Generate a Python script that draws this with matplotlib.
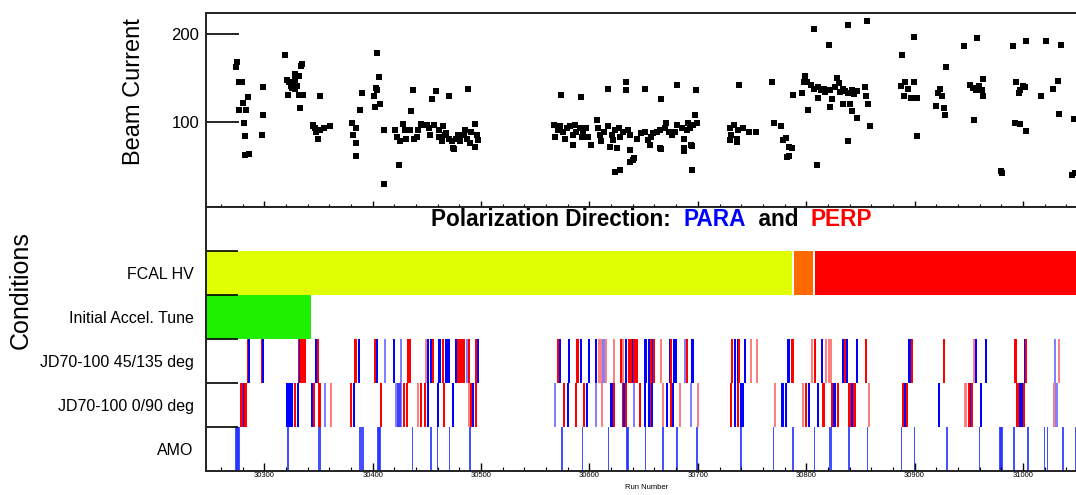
import matplotlib
matplotlib.use("Agg")
import matplotlib.pyplot as plt
from matplotlib.ticker import MultipleLocator, FixedLocator, NullFormatter

plt.rcParams['font.family'] = ['Liberation Sans', 'DejaVu Sans']

# beam current per run
runs = [30274, 30275, 30277, 30279, 30280, 30285, 30277, 30283, 30281, 30282, 30282, 30286,
        30299, 30299, 30298, 30319, 30321, 30323, 30325, 30328, 30328, 30330, 30332, 30334,
        30335, 30322, 30332, 30336, 30333, 30326, 30328, 30345, 30347, 30348, 30350, 30351,
        30355, 30361, 30351, 30345, 30381, 30385, 30382, 30385, 30385, 30388, 30390, 30401,
        30403, 30404, 30406, 30407, 30402, 30404, 30410, 30424, 30437, 30435, 30455, 30458,
        30470, 30475, 30488,
        30410, 30421, 30422, 30425, 30428, 30430, 30431, 30434, 30438, 30441, 30442, 30445,
        30447, 30450, 30452, 30453, 30457, 30461, 30461, 30464, 30465, 30467, 30468, 30470,
        30473, 30474, 30477, 30479, 30481, 30484, 30485, 30487, 30490, 30491, 30494, 30496,
        30497, 30494,
        30567, 30568, 30571, 30573, 30576, 30577, 30579, 30582, 30585, 30587, 30588, 30591,
        30593, 30594, 30585, 30601, 30597, 30599, 30607, 30608, 30610, 30611, 30613, 30617,
        30621, 30622, 30624, 30627, 30628, 30631, 30619, 30625, 30636, 30637, 30637, 30641,
        30644, 30648, 30651, 30654, 30656, 30657, 30659, 30662, 30665, 30665, 30670, 30671,
        30673, 30676, 30679, 30681, 30685, 30687, 30690, 30691, 30693, 30696, 30699, 30697,
        30687, 30694, 30730, 30731, 30733, 30736, 30737, 30742, 30747, 30754, 30730, 30736,
        30574, 30592, 30617, 30634, 30634, 30624, 30628, 30637, 30640, 30651, 30666, 30681,
        30698, 30695, 30687, 30666, 30695, 30738, 30768, 30770, 30777, 30779, 30784, 30782,
        30787, 30784, 30781, 30788, 30796, 30799, 30804, 30807, 30811, 30816, 30822, 30827,
        30828, 30830, 30834, 30839, 30842, 30847, 30854, 30802, 30811, 30824, 30822, 30834,
        30840, 30842, 30847, 30855, 30857, 30859, 30839, 30810, 30807, 30821, 30839, 30856,
        30814, 30817, 30819, 30831, 30836, 30844, 30798, 30801,
        30888, 30899, 30887, 30891, 30899, 30894, 30890, 30897, 30902, 30902, 30929, 30923,
        30925, 30920, 30927, 30928, 30922, 30946, 30958, 30951, 30954, 30959, 30962, 30963,
        30963, 30957, 30955, 30980, 30981, 30991, 31003, 31021, 31035, 30994, 31000, 30996,
        30997, 31002, 30993, 30997, 31003, 31017, 31028, 31032, 31033, 31047, 31045, 31048]
current = [163, 168, 145, 145, 122, 128, 114, 114, 99, 84, 63, 64,
           140, 108, 85, 176, 148, 146, 141, 154, 148, 141, 152, 164,
           166, 131, 131, 131, 116, 139, 138, 97, 93, 89, 81, 91,
           93, 95, 129, 95, 99, 93, 85, 76, 61, 114, 133, 129,
           139, 136, 151, 121, 117, 179, 30, 51, 136, 112, 126, 135,
           130, 69, 137,
           91, 91, 83, 78, 98, 91, 81, 91, 81, 83, 91, 98,
           97, 97, 93, 85, 97, 91, 83, 78, 95, 85, 87, 81,
           78, 70, 81, 85, 78, 85, 91, 81, 76, 89, 98, 85,
           80, 72,
           97, 83, 91, 95, 89, 81, 93, 95, 85, 97, 89, 93,
           83, 87, 74, 74, 93, 83, 102, 93, 85, 78, 89, 95,
           85, 80, 91, 93, 83, 89, 72, 70, 91, 85, 68, 59,
           81, 87, 89, 80, 74, 83, 87, 89, 70, 91, 93, 99,
           89, 85, 89, 97, 93, 81, 91, 99, 93, 97, 99, 108,
           70, 74, 93, 85, 97, 81, 91, 93, 89, 89, 80, 77,
           131, 128, 137, 145, 136, 43, 46, 55, 57, 137, 126, 142,
           136, 73, 67, 69, 46, 142, 145, 99, 96, 80, 72, 60,
           70, 61, 82, 131, 133, 152, 142, 138, 140, 137, 136, 140,
           150, 144, 137, 133, 136, 135, 140, 114, 127, 126, 117, 121,
           121, 113, 104, 129, 121, 96, 78, 51, 206, 188, 210, 215,
           136, 134, 136, 134, 135, 132, 145, 145,
           176, 197, 141, 146, 146, 138, 129, 127, 127, 84, 163, 137,
           129, 118, 116, 108, 133, 186, 195, 142, 139, 141, 136, 129,
           149, 136, 102, 44, 42, 186, 192, 192, 188, 146, 141, 133,
           136, 140, 99, 98, 90, 130, 138, 147, 109, 103, 40, 42]

# condition rows
row_labels = ["AMO", "JD70-100 0/90 deg", "JD70-100 45/135 deg",
              "Initial Accel. Tune", "FCAL HV"]
fcal_start = [30246.2, 30788.5, 30807.8]
fcal_end = [30786.6, 30806.0, 31060.0]
fcal_cols = ['#e0ff00', '#ff6a00', '#ff0000']
tune_start, tune_end = 30246.2, 30343.1

jd45_runs = [30284, 30285, 30297, 30298, 30331, 30332, 30333, 30334, 30335, 30336, 30337, 30347,
             30349, 30383, 30384, 30386, 30401, 30403, 30410, 30419, 30425, 30432, 30433, 30448,
             30450, 30453, 30455, 30460, 30461, 30464, 30467, 30469, 30476, 30478, 30480, 30481,
             30482, 30483, 30486, 30488, 30494, 30496,
             30570, 30572, 30580, 30588, 30591, 30599, 30605, 30608, 30610, 30612, 30614, 30622,
             30628, 30630, 30633, 30636, 30637, 30638, 30639, 30640, 30641, 30642, 30643,
             30650, 30651, 30654, 30656, 30658, 30659, 30665, 30673, 30674, 30677, 30679, 30687,
             30689, 30694, 30695, 30731, 30733, 30736, 30737, 30743, 30748, 30754,
             30782, 30783, 30786, 30787, 30804, 30807, 30814, 30817, 30820, 30822, 30833, 30835,
             30837, 30846, 30854, 30894, 30895, 30897, 30926, 30954, 30956, 30965, 30992, 30993,
             31001, 31002, 31029, 31032]
jd45_cols = "RBRBRBRRRRRBRRRBRBbBbRRrBBRBBRBBBRRRRRbRRB" \
            "RBBRBBBrrbrrRrBRRRBRRRR" \
            "BBBRBRrBRBBbRBBRBBRBrr" \
            "BBRRrRBrrrBRBBRBBRRrBBRRBRbr"

jd090_runs = [30278, 30279, 30280, 30281, 30282, 30320, 30321, 30322, 30323, 30325, 30327, 30330,
              30343, 30345, 30350, 30355, 30361, 30379, 30382, 30407, 30421, 30422, 30423, 30424,
              30425, 30428, 30431, 30441, 30444, 30447, 30450, 30459, 30465, 30473, 30488, 30490,
              30492, 30494,
              30567, 30576, 30579, 30587, 30594, 30597, 30605, 30611, 30619, 30620, 30622, 30630,
              30631, 30633, 30640,
              30646, 30650, 30654, 30656, 30657, 30667, 30671, 30674, 30676, 30683, 30693, 30699,
              30730, 30733, 30736, 30739, 30741, 30770, 30777, 30778, 30780, 30796, 30799, 30802,
              30810, 30815, 30823, 30825, 30826, 30828, 30839, 30841, 30843, 30844, 30857, 30888,
              30890, 30892, 30922, 30946, 30949, 30951, 30952, 30960, 30994, 30996, 30997, 30998,
              31000, 31028, 31030]
jd090_cols = "RRBRRBBBBBRBBRRbrRBRbbbbbRRrRRBBRBrRBR" \
             "bRBRRBbrBBRRBRb" \
             "RBBRBrBRBrbr" \
             "RBRBBrBBBrRBBRRBBRRBRRrRBRBrRBRBRBBBRrb"

amo_runs = [30273, 30274, 30275, 30276, 30321, 30350, 30351, 30387, 30388, 30389, 30390, 30391,
            30404, 30405, 30406, 30436, 30453, 30459, 30470, 30489, 30574, 30593, 30617, 30634,
            30635, 30651, 30667, 30680, 30698, 30699, 30739, 30769, 30787, 30807, 30821, 30822,
            30839, 30856, 30887, 30899, 30929, 30959, 30978, 30979, 30980, 30991, 31004, 31019,
            31022, 31036, 31048]

W, H = 1076, 495
fig = plt.figure(figsize=(W / 100, H / 100), dpi=100)


def box(l, t, r, b):
    return [l / W, 1 - b / H, (r - l) / W, (b - t) / H]


ax1 = fig.add_axes(box(206, 13, 1088, 207))
ax2 = fig.add_axes(box(206, 207, 1088, 471), sharex=ax1)
xmin, xmax = 30246.2, 31060.0

# beam current panel
ax1.scatter(runs, current, marker='s', s=19, color='black', linewidths=0)
ax1.set_xlim(xmin, xmax)
ax1.set_ylim(3.4, 223.9)
ax1.yaxis.set_major_locator(FixedLocator([100, 200]))
ax1.tick_params(axis='y', direction='in', length=24, width=1.2, labelsize=12, pad=5)
ax1.xaxis.set_major_locator(MultipleLocator(100))
ax1.xaxis.set_minor_locator(MultipleLocator(20))
ax1.tick_params(axis='x', which='major', direction='in', length=4, width=1, labelbottom=False)
ax1.tick_params(axis='x', which='minor', direction='in', length=2, width=0.8)
ax1.spines['right'].set_visible(False)

# conditions panel
colmap = {'R': ('#ff0000', 1.0), 'B': ('#0000ff', 1.0), 'r': ('#ff0000', 0.5), 'b': ('#0000ff', 0.5)}
for s, e, c in zip(fcal_start, fcal_end, fcal_cols):
    ax2.bar(s, 1, width=e - s, bottom=4, align='edge', color=c, linewidth=0)
ax2.bar(tune_start, 1, width=tune_end - tune_start, bottom=3, align='edge', color='#1ff000', linewidth=0)
for row, rr, cc in [(2, jd45_runs, jd45_cols), (1, jd090_runs, jd090_cols)]:
    for r, c in zip(rr, cc):
        col, a = colmap[c]
        ax2.bar(r, 1, width=1.9, bottom=row, align='edge', color=col, alpha=a, linewidth=0)
ax2.bar(amo_runs, 1, width=1.4, bottom=0, align='edge', color='#2233ff', alpha=0.85, linewidth=0)

ax2.set_ylim(0, 6)
ax2.yaxis.set_major_locator(FixedLocator([1, 2, 3, 4, 5]))
ax2.yaxis.set_major_formatter(NullFormatter())
ax2.yaxis.set_minor_locator(FixedLocator([0.5, 1.5, 2.5, 3.5, 4.5]))
ax2.yaxis.set_minor_formatter(plt.FixedFormatter(row_labels))
ax2.tick_params(axis='y', which='major', direction='in', length=23, width=1.2)
ax2.tick_params(axis='y', which='minor', length=0, labelsize=11.5, pad=9)
ax2.tick_params(axis='x', which='major', direction='in', length=6, width=1, labelsize=5.5, pad=1)
ax2.tick_params(axis='x', which='minor', direction='in', length=3, width=0.8)
ax2.spines['right'].set_visible(False)
ax2.set_xlabel("Run Number", fontsize=5.5, labelpad=3)

for ax in (ax1, ax2):
    for sp in ax.spines.values():
        sp.set_linewidth(1.4)
        sp.set_color('#222222')

fig.text(134 / W, 1 - 92 / H, "Beam Current", rotation=90, fontsize=17, ha='center', va='center')
fig.text(21 / W, 1 - 290 / H, "Conditions", rotation=90, fontsize=18, ha='center', va='center')

renderer = fig.canvas.get_renderer()
x = 431 / W
for s, c in [("Polarization Direction:  ", 'black'), ("PARA", '#0000ff'),
             ("  and  ", 'black'), ("PERP", '#ff0000')]:
    t = fig.text(x, 1 - 220 / H, s, color=c, fontsize=16.3, fontweight='bold', ha='left', va='center')
    x = t.get_window_extent(renderer).x1 / W

fig.savefig("out.png", dpi=100)
